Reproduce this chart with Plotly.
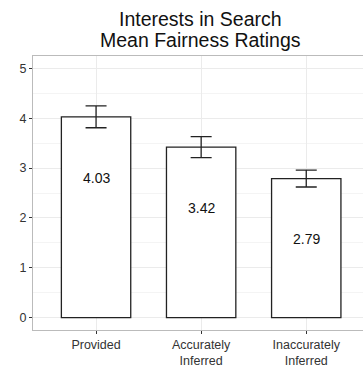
import plotly.graph_objects as go

# Mean fairness ratings by how the interest was obtained
categories = ["Provided", "Accurately<br>Inferred", "Inaccurately<br>Inferred"]
means = [4.03, 3.42, 2.79]
errors = [0.22, 0.21, 0.17]
y_ticks = [0, 1, 2, 3, 4, 5]
title_lines = ["Interests in Search", "Mean Fairness Ratings"]

x_pos = [1, 2, 3]

fig = go.Figure()
fig.add_trace(go.Bar(
    x=x_pos,
    y=means,
    width=0.66,
    marker=dict(color="white", line=dict(color="#222222", width=1.3)),
    error_y=dict(type="data", array=errors, visible=True,
                 color="#222222", thickness=1.3, width=10.5),
    hoverinfo="skip",
))

# value labels placed inside each bar
for xv, m in zip(x_pos, means):
    fig.add_annotation(x=xv, y=m - 1.22, text=f"{m:.2f}", showarrow=False,
                       font=dict(size=14, color="#111111"))

# two-line title centred over the panel
for yy, line in zip([1.135, 1.058], title_lines):
    fig.add_annotation(xref="paper", yref="paper", x=0.507, y=yy, text=line,
                       showarrow=False, xanchor="center", yanchor="middle",
                       font=dict(size=19.5, color="#111111"))

grid = "#EBEBEB"
fig.update_layout(
    width=363, height=369,
    margin=dict(l=33, r=0, t=56, b=39),
    paper_bgcolor="white", plot_bgcolor="white",
    font=dict(family="Liberation Sans, Arial, sans-serif"),
    showlegend=False,
    xaxis=dict(
        range=[0.4, 3.54], tickmode="array", tickvals=x_pos, ticktext=categories,
        showgrid=True, gridcolor=grid, gridwidth=1,
        showline=True, linecolor="#BBBBBB", linewidth=1, mirror=True,
        ticks="outside", ticklen=3, tickcolor="#333333",
        tickfont=dict(size=12.5, color="#333333"), zeroline=False,
    ),
    yaxis=dict(
        range=[-0.25, 5.25], tickmode="array", tickvals=y_ticks,
        showgrid=True, gridcolor=grid, gridwidth=1,
        minor=dict(dtick=0.5, showgrid=True, gridcolor="#F4F4F4", gridwidth=1),
        showline=True, linecolor="#BBBBBB", linewidth=1, mirror=False,
        ticks="outside", ticklen=3, tickcolor="#333333",
        tickfont=dict(size=12.5, color="#333333"), zeroline=False,
    ),
)

fig.write_html("out.html")
